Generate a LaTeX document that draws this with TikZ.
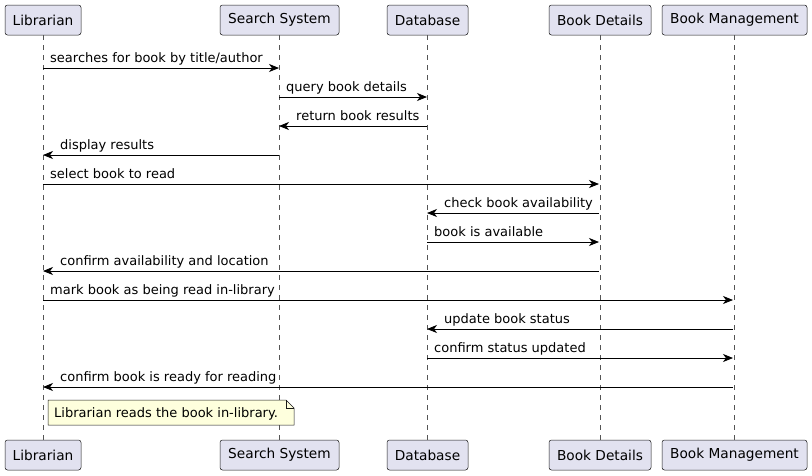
\documentclass[tikz,border=0pt]{standalone}
\usepackage{fontspec}
\setmainfont{DejaVu Sans}
\usetikzlibrary{arrows.meta}
\definecolor{partfill}{HTML}{E2E2F0}
\definecolor{partline}{HTML}{181818}
\definecolor{notefill}{HTML}{FEFFDD}
\definecolor{lifeline}{HTML}{555555}
\begin{document}
\begin{tikzpicture}[x=1pt,y=-1pt,
  part/.style={draw=partline, fill=partfill, rounded corners=2.5pt, line width=0.5pt,
    minimum height=30pt, inner sep=0pt, font=\fontsize{13.7}{16}\selectfont, text=black},
  life/.style={draw=lifeline, line width=0.5pt, dash pattern=on 5pt off 5pt},
  msg/.style={draw=black, line width=0.8pt, -{Stealth[length=10pt,width=8pt,inset=3pt]}},
  lbl/.style={anchor=base west, inner sep=0pt, font=\fontsize{13}{15}\selectfont, text=black}]
\useasboundingbox (0,0) rectangle (812,475);
% participants top
\node[part, minimum width=76pt]  (lt) at (43,20)    {Librarian};
\node[part, minimum width=119pt] (st) at (279.5,20) {Search System};
\node[part, minimum width=81pt]  (dt) at (427.5,20) {Database};
\node[part, minimum width=102pt] (bt) at (600,20)   {Book Details};
\node[part, minimum width=145pt] (mt) at (734.5,20) {Book Management};
% participants bottom
\node[part, minimum width=76pt]  (lb) at (43,455)    {Librarian};
\node[part, minimum width=119pt] (sb) at (279.5,455) {Search System};
\node[part, minimum width=81pt]  (db) at (427.5,455) {Database};
\node[part, minimum width=102pt] (bb) at (600,455)   {Book Details};
\node[part, minimum width=145pt] (mb) at (734.5,455) {Book Management};
% lifelines
\draw[life] (lt.south) -- (lb.north);
\draw[life] (st.south) -- (sb.north);
\draw[life] (dt.south) -- (db.north);
\draw[life] (bt.south) -- (bb.north);
\draw[life] (mt.south) -- (mb.north);
% message end points
\coordinate (a1) at (43,68);   \coordinate (b1) at (279,68);
\coordinate (a2) at (279,97);  \coordinate (b2) at (427,97);
\coordinate (a3) at (427,126); \coordinate (b3) at (279,126);
\coordinate (a4) at (279,155); \coordinate (b4) at (43,155);
\coordinate (a5) at (43,184);  \coordinate (b5) at (599,184);
\coordinate (a6) at (599,213); \coordinate (b6) at (427,213);
\coordinate (a7) at (427,242); \coordinate (b7) at (599,242);
\coordinate (a8) at (599,271); \coordinate (b8) at (43,271);
\coordinate (a9) at (43,300);  \coordinate (b9) at (733,300);
\coordinate (a10) at (733,329); \coordinate (b10) at (427,329);
\coordinate (a11) at (427,358); \coordinate (b11) at (733,358);
\coordinate (a12) at (733,387); \coordinate (b12) at (43,387);
% messages
\draw[msg] (a1) -- (b1);   \node[lbl] (t1) at ([shift={(7,-6)}]a1) {searches for book by title/author};
\draw[msg] (a2) -- (b2);   \node[lbl] (t2) at ([shift={(7,-6)}]a2) {query book details};
\draw[msg] (a3) -- (b3);   \node[lbl] (t3) at ([shift={(17,-6)}]b3) {return book results};
\draw[msg] (a4) -- (b4);   \node[lbl] (t4) at ([shift={(17,-6)}]b4) {display results};
\draw[msg] (a5) -- (b5);   \node[lbl] (t5) at ([shift={(7,-6)}]a5) {select book to read};
\draw[msg] (a6) -- (b6);   \node[lbl] (t6) at ([shift={(17,-6)}]b6) {check book availability};
\draw[msg] (a7) -- (b7);   \node[lbl] (t7) at ([shift={(7,-6)}]a7) {book is available};
\draw[msg] (a8) -- (b8);   \node[lbl] (t8) at ([shift={(17,-6)}]b8) {confirm availability and location};
\draw[msg] (a9) -- (b9);   \node[lbl] (t9) at ([shift={(7,-6)}]a9) {mark book as being read in-library};
\draw[msg] (a10) -- (b10); \node[lbl] (t10) at ([shift={(17,-6)}]b10) {update book status};
\draw[msg] (a11) -- (b11); \node[lbl] (t11) at ([shift={(7,-6)}]a11) {confirm status updated};
\draw[msg] (a12) -- (b12); \node[lbl] (t12) at ([shift={(17,-6)}]b12) {confirm book is ready for reading};
% note
\filldraw[fill=notefill, draw=partline, line width=0.5pt]
  (48,400) -- (286,400) -- (294,408) -- (294,425) -- (48,425) -- cycle;
\draw[partline, line width=0.5pt] (286,400) -- (286,408) -- (294,408);
\node[lbl] (note) at (54,417) {Librarian reads the book in-library.};
\end{tikzpicture}
\end{document}
